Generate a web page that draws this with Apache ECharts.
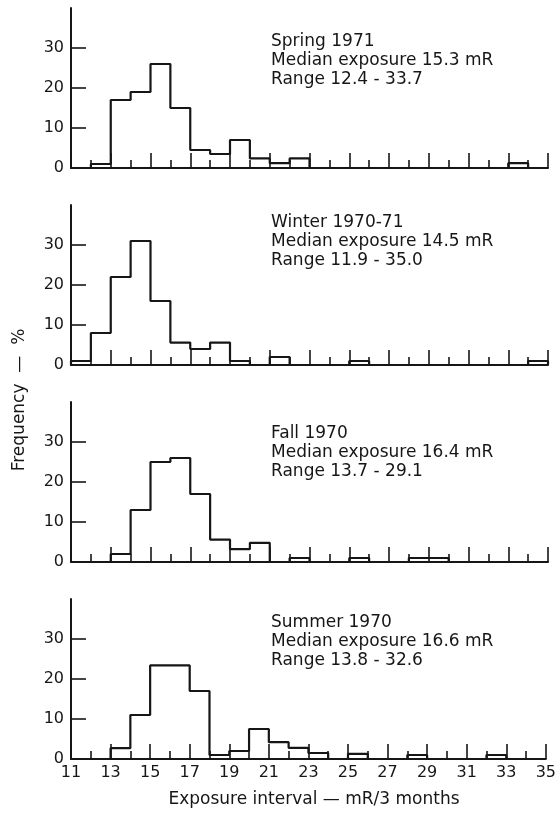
<!DOCTYPE html>
<html>
<head>
<meta charset="utf-8">
<script src="https://cdn.jsdelivr.net/npm/echarts@6/dist/echarts.min.js"></script>
<style>
html, body { margin: 0; background: #fff; }
#main { width: 559px; height: 815px; }
</style>
</head>
<body>
<div id="main"></div>
<script>
// bin left edges (mR / 3 months), last entry is the right edge of the last bin
var binEdges = [11, 12, 13, 14, 15, 16, 17, 18, 19, 20, 21, 22, 23, 24, 25, 26, 27, 28, 29, 30, 31, 32, 33, 34, 35];

// frequency (%) per 1 mR bin
var spring1971 = [0, 1, 17, 19, 26, 15, 4.5, 3.5, 7, 2.4, 1.2, 2.4, 0, 0, 0, 0, 0, 0, 0, 0, 0, 0, 1.2, 0];
var winter1970 = [1, 8, 22, 31, 16, 5.6, 4, 5.6, 1, 0, 2, 0, 0, 0, 1, 0, 0, 0, 0, 0, 0, 0, 0, 1];
var fall1970 = [0, 0, 2, 13, 25, 26, 17, 5.6, 3.2, 4.8, 0, 1, 0, 0, 1, 0, 0, 1, 1, 0, 0, 0, 0, 0];
var summer1970 = [0, 0, 2.7, 11, 23.4, 23.4, 17, 1, 2, 7.5, 4.2, 2.8, 1.5, 0, 1.3, 0, 0, 1, 0, 0, 0, 1, 0, 0];

var panelNames = ['Spring 1971', 'Winter 1970-71', 'Fall 1970', 'Summer 1970'];
var medians = ['15.3', '14.5', '16.4', '16.6'];
var ranges = ['12.4 - 33.7', '11.9 - 35.0', '13.7 - 29.1', '13.8 - 32.6'];

var xTicks = [11, 35, 2];     // min, max, labelled step
var yTicks = [0, 10, 20, 30];
var yMax = 40;

var panels = [spring1971, winter1970, fall1970, summer1970];

var ink = '#161616';
var font = 'DejaVu Sans';

const buildSteps = (vals) => {
    var pts = [[binEdges[0], 0]];
    for (var i = 0; i < vals.length; i++) {
        pts.push([binEdges[i], vals[i]]);
    }
    pts.push([binEdges[binEdges.length - 1], 0]);
    return pts;
};

const histogramInit = () => {
    var chartDom = document.getElementById('main');
    var myChart = echarts.init(chartDom);
    var option;

    var grids = [], xAxes = [], yAxes = [], series = [], graphics = [];
    var tops = [8, 205, 402, 599];
    var noteOffsets = [24, 8, 22, 14];   // where each panel's caption sits

    panels.forEach(function (vals, k) {
        grids.push({ left: 71, right: 11, top: tops[k], height: 160 });

        xAxes.push({
            type: 'value',
            gridIndex: k,
            min: xTicks[0],
            max: xTicks[1],
            interval: xTicks[2],
            axisLine: { lineStyle: { color: ink, width: 2 } },
            axisTick: { show: true, inside: true, length: 15, lineStyle: { color: ink, width: 1.6 } },
            minorTick: { show: true, splitNumber: 2, length: 8, lineStyle: { color: ink, width: 1.6 } },
            splitLine: { show: false },
            axisLabel: {
                show: k === 3,
                color: ink,
                fontFamily: font,
                fontSize: 16,
                margin: 6
            }
        });

        yAxes.push({
            type: 'value',
            gridIndex: k,
            min: 0,
            max: yMax,
            interval: 10,
            axisLine: { show: true, lineStyle: { color: ink, width: 2 } },
            axisTick: { show: true, inside: true, length: 15, customValues: yTicks.slice(1), lineStyle: { color: ink, width: 1.6 } },
            splitLine: { show: false },
            axisLabel: {
                customValues: yTicks,
                color: ink,
                fontFamily: font,
                fontSize: 16,
                margin: 7
            }
        });

        series.push({
            type: 'line',
            xAxisIndex: k,
            yAxisIndex: k,
            step: 'end',
            symbol: 'none',
            silent: true,
            z: 5,
            lineStyle: { color: ink, width: 2.2 },
            data: buildSteps(vals)
        });

        graphics.push({
            type: 'text',
            left: 271,
            top: tops[k] + noteOffsets[k],
            style: {
                text: panelNames[k] + '\nMedian exposure ' + medians[k] + ' mR\nRange ' + ranges[k],
                font: '17px "DejaVu Sans"',
                lineHeight: 19,
                fill: ink
            }
        });
    });

    graphics.push({
        type: 'text',
        x: 20,
        y: 400,
        rotation: Math.PI / 2,
        style: {
            text: 'Frequency  \u2014  %',
            font: '17px "DejaVu Sans"',
            fill: ink,
            align: 'center',
            verticalAlign: 'middle'
        }
    });

    graphics.push({
        type: 'text',
        x: 314,
        y: 800,
        style: {
            text: 'Exposure interval \u2014 mR/3 months',
            font: '17px "DejaVu Sans"',
            fill: ink,
            align: 'center',
            verticalAlign: 'middle'
        }
    });

    option = {
        backgroundColor: '#fff',
        animation: false,
        grid: grids,
        xAxis: xAxes,
        yAxis: yAxes,
        series: series,
        graphic: graphics
    };

    option && myChart.setOption(option);
};

histogramInit();
</script>
</body>
</html>
